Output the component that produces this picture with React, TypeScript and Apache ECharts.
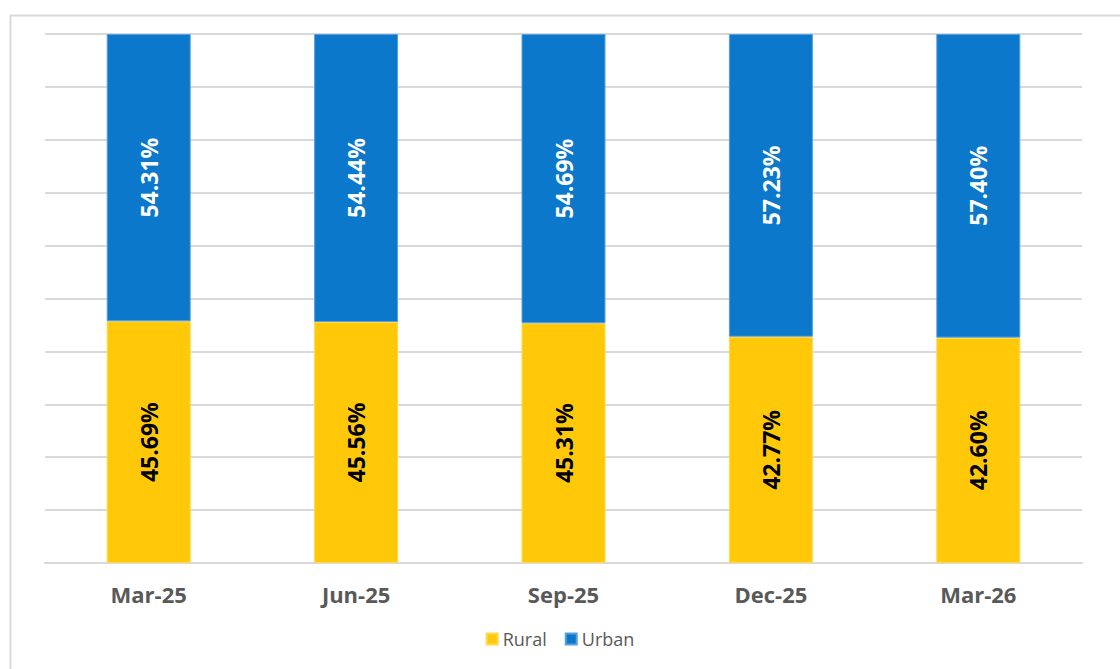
import React, { useEffect, useRef } from "react";
import * as echarts from "echarts";

const categories = ["Mar-25", "Jun-25", "Sep-25", "Dec-25", "Mar-26"];
const rural = [45.69, 45.56, 45.31, 42.77, 42.6];
const urban = [54.31, 54.44, 54.69, 57.23, 57.4];

export default function App() {
  const ref = useRef<HTMLDivElement>(null);
  useEffect(() => {
    document.body.style.margin = "0";
    const chart = echarts.init(ref.current!, null, { renderer: "svg" });
    const font = "'Open Sans', 'Noto Sans', sans-serif";
    chart.setOption({
      animation: false,
      backgroundColor: "#ffffff",
      textStyle: { fontFamily: font },
      graphic: [
        {
          type: "rect",
          left: 8,
          top: 13,
          shape: { width: 1140, height: 700 },
          style: { fill: "none", stroke: "#d9d9d9", lineWidth: 2 },
          silent: true,
          z: -1,
        },
      ],
      grid: { left: 45, right: 38, top: 34, bottom: 106, containLabel: false },
      legend: {
        bottom: 16,
        left: "center",
        itemWidth: 11,
        itemHeight: 11,
        itemGap: 18,
        icon: "rect",
        textStyle: { color: "#595959", fontSize: 18, fontFamily: font },
        data: ["Rural", "Urban"],
      },
      xAxis: {
        type: "category",
        data: categories,
        axisLine: { show: true, lineStyle: { color: "#d9d9d9", width: 2 } },
        axisTick: { show: false },
        axisLabel: {
          color: "#595959",
          fontSize: 22,
          fontWeight: "bold",
          margin: 20,
          fontFamily: font,
        },
      },
      yAxis: {
        type: "value",
        min: 0,
        max: 100,
        interval: 10,
        axisLabel: { show: false },
        axisLine: { show: false },
        axisTick: { show: false },
        splitLine: { lineStyle: { color: "#d9d9d9", width: 2 } },
      },
      series: [
        {
          name: "Rural",
          type: "bar",
          stack: "total",
          data: rural,
          barWidth: 84,
          itemStyle: { color: "#FFC90A", borderColor: "#FFD84D", borderWidth: 1 },
          label: {
            show: true,
            position: "inside",
            rotate: 90,
            color: "#000000",
            fontSize: 23,
            fontWeight: "bold",
            fontFamily: font,
            formatter: (p: any) => p.value.toFixed(2) + "%",
          },
        },
        {
          name: "Urban",
          type: "bar",
          stack: "total",
          data: urban,
          barWidth: 84,
          itemStyle: { color: "#0B78CB", borderColor: "#5A9FDD", borderWidth: 1 },
          label: {
            show: true,
            position: "inside",
            rotate: 90,
            color: "#ffffff",
            fontSize: 23,
            fontWeight: "bold",
            fontFamily: font,
            formatter: (p: any) => p.value.toFixed(2) + "%",
          },
        },
      ],
    });
    return () => chart.dispose();
  }, []);
  return <div ref={ref} style={{ width: 1120, height: 669 }} />;
}
